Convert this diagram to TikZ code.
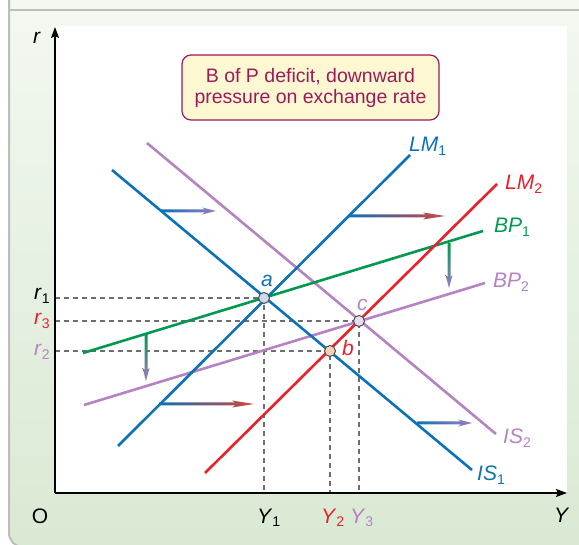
\documentclass[tikz,border=0pt]{standalone}
\usepackage{fontspec}
\setmainfont{Liberation Sans}
\setsansfont{Liberation Sans}
\usetikzlibrary{arrows.meta, positioning, calc}
\definecolor{lmblue}{HTML}{0B72B5}
\definecolor{lmred}{HTML}{E8212B}
\definecolor{bpgreen}{HTML}{00994F}
\definecolor{ispurple}{HTML}{B683C2}
\definecolor{arrowred}{HTML}{D2453F}
\definecolor{arrowpurple}{HTML}{9A7DC0}
\definecolor{boxred}{HTML}{9B1B5A}
\definecolor{boxfill}{HTML}{FDF8D2}
\definecolor{dashgray}{HTML}{6E6E6E}
\definecolor{paneltop}{HTML}{F3F8F1}
\definecolor{panelgreen}{HTML}{DAE9D3}
\definecolor{panelline}{HTML}{BDBDBD}
\definecolor{ptblue}{HTML}{C9DBEB}
\definecolor{ptred}{HTML}{F8D0BA}
\definecolor{ptpurple}{HTML}{E8DDEE}
\newcommand{\lbl}[2]{\textit{#1}\raisebox{-3.5pt}{\fontsize{14}{14}\selectfont #2}}

\begin{document}
\begin{tikzpicture}[x=1pt, y=-1pt,
    curve/.style={line width=2.6pt},
    guide/.style={dashgray, line width=1.3pt, dash pattern=on 5pt off 4pt},
    axis/.style={line width=1.3pt, -{Stealth[length=11pt, width=8pt, inset=2pt]}},
    lab/.style={font=\fontsize{21}{21}\selectfont, inner sep=0pt},
    eqpt/.style={circle, draw=dashgray!70!black, line width=1pt, minimum size=11pt, inner sep=0pt},
]
    \useasboundingbox (0,0) rectangle (579,545);

    % panel
    \fill[white] (0,0) rectangle (579,545);
    \shade[top color=paneltop, bottom color=panelgreen, rounded corners=14pt]
        (9,0) -- (9,547) -- (590,547) [sharp corners] -- (590,0) -- cycle;
    \draw[panelline, line width=2pt, rounded corners=14pt] (9,0) -- (9,547) -- (590,547);
    \draw[panelline, line width=2pt] (9,10.5) -- (579,10.5);
    \fill[white] (55,26) rectangle (567,493);

    \coordinate (O) at (55,493);
    \coordinate (pa) at (264,298);
    \coordinate (pb) at (330,351);
    \coordinate (pc) at (359,321);

    % guide lines
    \draw[guide] (O |- pa) -- (pa) -- (pa |- O);
    \draw[guide] (O |- pc) -- (pc) -- (pc |- O);
    \draw[guide] (O |- pb) -- (pb) -- (pb |- O);

    % axes
    \draw[axis] (O) -- (55,27);
    \draw[axis] (O) -- (567,493);

    % curves
    \draw[curve, ispurple] (147,143) -- (496,434);
    \draw[curve, ispurple] (84,405) -- (485,283);
    \draw[curve, bpgreen] (83,353) -- (483,231);
    \draw[curve, lmblue] (112,170) -- (472,470);
    \draw[curve, lmblue] (118,446) -- (410,155);
    \draw[curve, lmred] (205,473) -- (497,184);

    % shift arrows
    \foreach \sx/\sy/\ex/\hl/\c in {161/211/216/14/arrowpurple, 349/216/445/22/arrowred,
                                    159/404/254/22/arrowred, 417/423/472/14/arrowpurple}
        \shade[left color=lmblue, right color=\c]
            (\sx,{\sy-1.5}) -- ({\ex-\hl+3},{\sy-1.5}) -- ({\ex-\hl},{\sy-3.5}) -- (\ex,\sy)
            -- ({\ex-\hl},{\sy+3.5}) -- ({\ex-\hl+3},{\sy+1.5}) -- (\sx,{\sy+1.5}) -- cycle;
    \foreach \sx/\sy/\ey in {146/334/381, 449/243/288}
        \shade[top color=bpgreen, bottom color=arrowpurple]
            ({\sx-1.5},\sy) -- ({\sx-1.5},{\ey-11}) -- ({\sx-3.5},{\ey-13}) -- (\sx,\ey)
            -- ({\sx+3.5},{\ey-13}) -- ({\sx+1.5},{\ey-11}) -- ({\sx+1.5},\sy) -- cycle;

    % equilibrium points
    \node[eqpt, fill=ptblue] (a) at (pa) {};
    \node[eqpt, fill=ptred] (b) at (pb) {};
    \node[eqpt, fill=ptpurple] (c) at (pc) {};
    \node[lab, lmblue, anchor=base] (alab) at (267,287) {\textit{a}};
    \node[lab, lmred, anchor=base west] (blab) at (342,356) {\textit{b}};
    \node[lab, ispurple, anchor=base west] (clab) at (357,311) {\textit{c}};

    % curve labels
    \node[lab, lmblue, anchor=base west] (lm1lab) at (409,152) {\lbl{LM}{1}};
    \node[lab, lmred, anchor=base west] (lm2lab) at (505,190) {\lbl{LM}{2}};
    \node[lab, bpgreen, anchor=base west] (bp1lab) at (494,233) {\lbl{BP}{1}};
    \node[lab, ispurple, anchor=base west] (bp2lab) at (493,288) {\lbl{BP}{2}};
    \node[lab, ispurple, anchor=base west] (is2lab) at (503,444) {\lbl{IS}{2}};
    \node[lab, lmblue, anchor=base west] (is1lab) at (477,481) {\lbl{IS}{1}};

    % axis labels
    \node[lab, anchor=base west] (rlab) at (33,44) {\textit{r}};
    \node[lab, anchor=base west] (r1lab) at (34,300) {\lbl{r}{1}};
    \node[lab, lmred, anchor=base west] (r3lab) at (34,325) {\lbl{r}{3}};
    \node[lab, ispurple, anchor=base west] (r2lab) at (34,356) {\lbl{r}{2}};
    \node[lab, anchor=base] (olab) at (40,523) {O};
    \node[lab, anchor=base west] (y1lab) at (257,523) {\lbl{Y}{1}};
    \node[lab, lmred, anchor=base west] (y2lab) at (321,523) {\lbl{Y}{2}};
    \node[lab, ispurple, anchor=base west] (y3lab) at (350,523) {\lbl{Y}{3}};
    \node[lab, anchor=base west] (ylab) at (554,522) {\textit{Y}};

    % note
    \node[draw=boxred, fill=boxfill, line width=1.2pt, rounded corners=9pt, text=boxred,
          align=center, font=\fontsize{19.5}{21}\selectfont, minimum width=257pt, minimum height=65pt]
        (note) at (310.5,87.5) {B of P deficit, downward\\pressure on exchange rate};
\end{tikzpicture}
\end{document}
